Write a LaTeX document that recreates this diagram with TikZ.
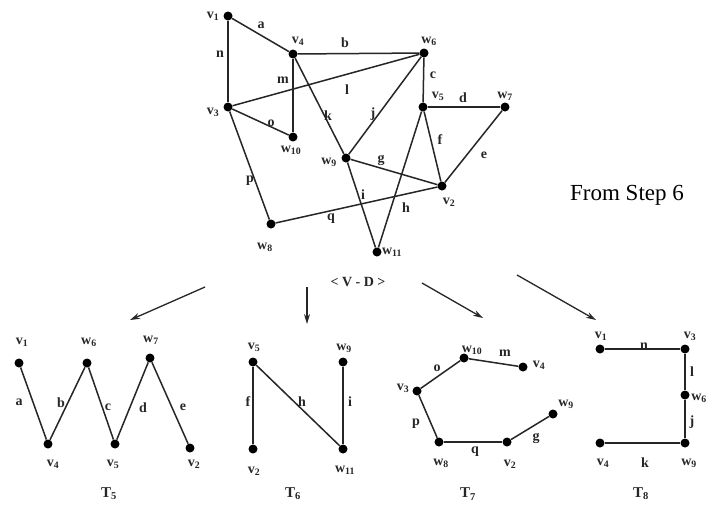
\documentclass[tikz,border=0pt]{standalone}
\usepackage{fontspec}
\setmainfont{Liberation Serif}
\usetikzlibrary{arrows.meta}
\tikzset{
 vtx/.style={circle,fill=black,inner sep=0pt,minimum size=9pt},
 edg/.style={line width=1.5pt,draw=black!85},
 lbl/.style={font=\bfseries\fontsize{14}{14}\selectfont,inner sep=0pt,text=black!85},
 ttl/.style={font=\bfseries\fontsize{15}{15}\selectfont,inner sep=0pt,text=black!85},
 arr/.style={line width=1.3pt,draw=black!85,-{Stealth[length=10pt,width=6pt]}},
}
\newcommand{\vl}[2]{#1\textsubscript{#2}}
\begin{document}
\begin{tikzpicture}[x=1pt,y=-1pt]
\useasboundingbox (0,0) rectangle (708,504);
\fill[white] (0,0) rectangle (708,504);
% ---------- top graph ----------
\node[vtx] (v1) at (228,16) {};
\node[vtx] (v4) at (293,54) {};
\node[vtx] (w6) at (424,53) {};
\node[vtx] (v3) at (228,107) {};
\node[vtx] (w10) at (293,137) {};
\node[vtx] (v5) at (423,107) {};
\node[vtx] (w7) at (505,107) {};
\node[vtx] (w9) at (346,158) {};
\node[vtx] (v2) at (442,186) {};
\node[vtx] (w8) at (271,224) {};
\node[vtx] (w11) at (377,252) {};
\draw[edg] (v1) -- (v4);
\draw[edg] (v1) -- (v3);
\draw[edg] (v4) -- (w6);
\draw[edg] (v4) -- (w10);
\draw[edg] (v4) -- (w9);
\draw[edg] (v3) -- (w6);
\draw[edg] (v3) -- (w10);
\draw[edg] (v3) -- (w8);
\draw[edg] (w6) -- (v5);
\draw[edg] (w6) -- (w9);
\draw[edg] (v5) -- (w7);
\draw[edg] (v5) -- (v2);
\draw[edg] (v5) -- (w11);
\draw[edg] (w7) -- (v2);
\draw[edg] (w9) -- (v2);
\draw[edg] (w9) -- (w11);
\draw[edg] (w8) -- (v2);
\node[lbl] (lv1) at (213,16) {\vl{v}{1}};
\node[lbl] (la) at (261,25) {a};
\node[lbl] (lv4) at (298,41) {\vl{v}{4}};
\node[lbl] (lb) at (345,43) {b};
\node[lbl] (lw6) at (429,41) {\vl{w}{6}};
\node[lbl] (ln) at (220,54) {n};
\node[lbl] (lm) at (283,80) {m};
\node[lbl] (ll) at (347,90) {l};
\node[lbl] (lc) at (433,75) {c};
\node[lbl] (lv5) at (438,96) {\vl{v}{5}};
\node[lbl] (ld) at (463,98) {d};
\node[lbl] (lw7) at (505,96) {\vl{w}{7}};
\node[lbl] (lv3) at (213,112) {\vl{v}{3}};
\node[lbl] (lo) at (271,123) {o};
\node[lbl] (lk) at (328,116) {k};
\node[lbl] (lj) at (373,114) {j};
\node[lbl] (lw10) at (291,150) {\vl{w}{10}};
\node[lbl] (lf) at (440,140) {f};
\node[lbl] (lw9) at (329,162) {\vl{w}{9}};
\node[lbl] (lg) at (381,160) {g};
\node[lbl] (le) at (484,155) {e};
\node[lbl] (lp) at (250,181) {p};
\node[lbl] (li) at (363,195) {i};
\node[lbl] (lv2) at (449,202) {\vl{v}{2}};
\node[lbl] (lh) at (406,208) {h};
\node[lbl] (lq) at (331,219) {q};
\node[lbl] (lw8) at (265,247) {\vl{w}{8}};
\node[lbl] (lw11) at (392,252) {\vl{w}{11}};
\node[lbl] (vd) at (358,282) {< V - D >};
\node[font=\fontsize{23}{23}\selectfont,inner sep=0pt] (step) at (627,195) {From Step 6};
% ---------- arrows ----------
\coordinate (a1s) at (205,287); \coordinate (a1e) at (130,320);
\coordinate (a2s) at (307,287); \coordinate (a2e) at (307,324);
\coordinate (a3s) at (422,283); \coordinate (a3e) at (483,318);
\coordinate (a4s) at (517,275); \coordinate (a4e) at (596,320);
\draw[arr] (a1s) -- (a1e);
\draw[arr] (a2s) -- (a2e);
\draw[arr] (a3s) -- (a3e);
\draw[arr] (a4s) -- (a4e);
% ---------- T5 ----------
\node[vtx] (t5v1) at (19,363) {};
\node[vtx] (t5w6) at (87,363) {};
\node[vtx] (t5w7) at (150,358) {};
\node[vtx] (t5v4) at (48,444) {};
\node[vtx] (t5v5) at (115,444) {};
\node[vtx] (t5v2) at (190,448) {};
\draw[edg] (t5v1) -- (t5v4);
\draw[edg] (t5v4) -- (t5w6);
\draw[edg] (t5w6) -- (t5v5);
\draw[edg] (t5v5) -- (t5w7);
\draw[edg] (t5w7) -- (t5v2);
\node[lbl] at (22,342) {\vl{v}{1}};
\node[lbl] at (89,342) {\vl{w}{6}};
\node[lbl] at (151,340) {\vl{w}{7}};
\node[lbl] at (19,402) {a};
\node[lbl] at (61,403) {b};
\node[lbl] at (108,407) {c};
\node[lbl] at (143,408) {d};
\node[lbl] at (183,407) {e};
\node[lbl] at (53,464) {\vl{v}{4}};
\node[lbl] at (113,464) {\vl{v}{5}};
\node[lbl] at (194,464) {\vl{v}{2}};
\node[ttl] at (109,494) {\vl{T}{5}};
% ---------- T6 ----------
\node[vtx] (t6v5) at (253,362) {};
\node[vtx] (t6w9) at (343,362) {};
\node[vtx] (t6v2) at (253,449) {};
\node[vtx] (t6w11) at (343,449) {};
\draw[edg] (t6v5) -- (t6v2);
\draw[edg] (t6v5) -- (t6w11);
\draw[edg] (t6w9) -- (t6w11);
\node[lbl] at (254,347) {\vl{v}{5}};
\node[lbl] at (344,348) {\vl{w}{9}};
\node[lbl] at (248,402) {f};
\node[lbl] at (302,402) {h};
\node[lbl] at (350,402) {i};
\node[lbl] at (254,471) {\vl{v}{2}};
\node[lbl] at (345,470) {\vl{w}{11}};
\node[ttl] at (293,494) {\vl{T}{6}};
% ---------- T7 ----------
\node[vtx] (t7w10) at (464,358) {};
\node[vtx] (t7v4) at (523,367) {};
\node[vtx] (t7v3) at (417,391) {};
\node[vtx] (t7w9) at (553,414) {};
\node[vtx] (t7w8) at (439,442) {};
\node[vtx] (t7v2) at (507,442) {};
\draw[edg] (t7w10) -- (t7v4);
\draw[edg] (t7v3) -- (t7w10);
\draw[edg] (t7v3) -- (t7w8);
\draw[edg] (t7w8) -- (t7v2);
\draw[edg] (t7v2) -- (t7w9);
\node[lbl] at (472,350) {\vl{w}{10}};
\node[lbl] at (505,353) {m};
\node[lbl] at (539,365) {\vl{v}{4}};
\node[lbl] at (437,368) {o};
\node[lbl] at (403,388) {\vl{v}{3}};
\node[lbl] at (566,404) {\vl{w}{9}};
\node[lbl] at (416,424) {p};
\node[lbl] at (475,452) {q};
\node[lbl] at (536,438) {g};
\node[lbl] at (441,463) {\vl{w}{8}};
\node[lbl] at (510,464) {\vl{v}{2}};
\node[ttl] at (468,494) {\vl{T}{7}};
% ---------- T8 ----------
\node[vtx] (t8v1) at (600,349) {};
\node[vtx] (t8v3) at (685,349) {};
\node[vtx] (t8w6) at (685,395) {};
\node[vtx] (t8w9) at (685,443) {};
\node[vtx] (t8v4) at (600,443) {};
\draw[edg] (t8v1) -- (t8v3);
\draw[edg] (t8v3) -- (t8w6);
\draw[edg] (t8w6) -- (t8w9);
\draw[edg] (t8w9) -- (t8v4);
\node[lbl] at (601,336) {\vl{v}{1}};
\node[lbl] at (644,346) {n};
\node[lbl] at (690,336) {\vl{v}{3}};
\node[lbl] at (692,372) {l};
\node[lbl,anchor=east] at (707,398) {\vl{w}{6}};
\node[lbl] at (692,422) {j};
\node[lbl] at (603,463) {\vl{v}{4}};
\node[lbl] at (645,463) {k};
\node[lbl] at (689,463) {\vl{w}{9}};
\node[ttl] at (641,494) {\vl{T}{8}};
\end{tikzpicture}
\end{document}
